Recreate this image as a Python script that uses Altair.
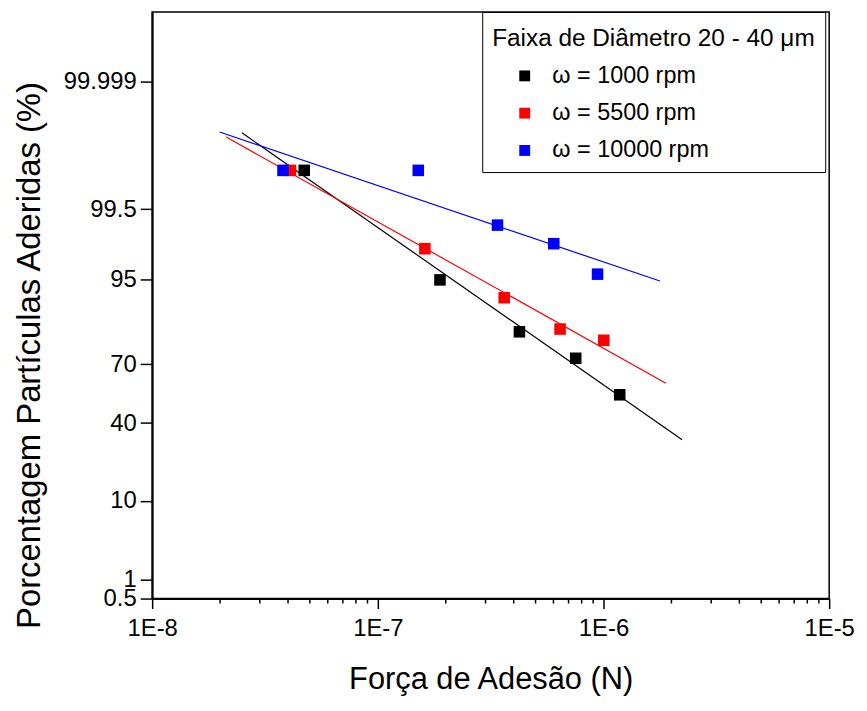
import math
import numpy as np
import pandas as pd
import altair as alt

# ---------------- data ----------------
series_names = ["ω = 1000 rpm", "ω = 5500 rpm", "ω = 10000 rpm"]
series_colors = ["#000000", "#ff0000", "#0000ff"]

force_1000 = [4.72e-8, 1.885e-7, 4.24e-7, 7.53e-7, 1.18e-6]
pct_1000 = [99.90, 94.96, 83.0, 72.7, 54.8]

force_5500 = [4.10e-8, 1.616e-7, 3.63e-7, 6.42e-7, 1.003e-6]
pct_5500 = [99.90, 98.0, 92.0, 83.9, 80.0]

force_10000 = [3.80e-8, 1.511e-7, 3.39e-7, 6.02e-7, 9.41e-7]
pct_10000 = [99.90, 99.90, 99.1, 98.3, 95.7]

# x-extent of each fitted line
fit_start = [2.50e-8, 2.13e-8, 1.99e-8]
fit_end = [2.23e-6, 1.89e-6, 1.78e-6]

y_tick_labels = ["0.5", "1", "10", "40", "70", "95", "99.5", "99.999"]
x_tick_values = [1e-8, 1e-7, 1e-6, 1e-5]
legend_title = "\u00a0Faixa de Diâmetro 20 - 40 μm"
x_title = "Força de Adesão (N)"
y_title = "Porcentagem Partículas Aderidas (%)"


# ---------------- probability (probit) transform ----------------
def probit(p):
    lo, hi = -12.0, 12.0
    for _ in range(200):
        mid = 0.5 * (lo + hi)
        if 0.5 * (1.0 + math.erf(mid / math.sqrt(2.0))) < p:
            lo = mid
        else:
            hi = mid
    return 0.5 * (lo + hi)


forces = [force_1000, force_5500, force_10000]
pcts = [pct_1000, pct_5500, pct_10000]

pt_rows = []
fit_rows = []
for name, col, fx, py, xs, xe in zip(series_names, series_colors, forces, pcts,
                                     fit_start, fit_end):
    zs = [probit(v / 100.0) for v in py]
    for f, v, z in zip(fx, py, zs):
        pt_rows.append({"series": name, "force": f, "pct": v, "z": z})
    slope, icpt = np.polyfit(np.log10(fx), zs, 1)
    for xv in (xs, xe):
        fit_rows.append({"series": name, "col": col, "force": xv,
                         "z": float(slope * math.log10(xv) + icpt)})

pts_df = pd.DataFrame(pt_rows)
fit_df = pd.DataFrame(fit_rows)

y_tick_z = [probit(float(t) / 100.0) for t in y_tick_labels]
label_expr = "''"
for t, z in zip(y_tick_labels, y_tick_z):
    label_expr = f"abs(datum.value - ({z:.6f})) < 0.0005 ? '{t}' : " + label_expr
y_bottom = y_tick_z[0]
y_top = y_tick_z[0] + (y_tick_z[-1] - y_tick_z[0]) * 590.0 / 520.0

minor_ticks = [m * 10.0 ** e for e in (-8, -7, -6) for m in range(2, 10)]
minor_df = pd.DataFrame({"force": minor_ticks})

FONT = "Liberation Sans"
W, H = 681, 590

xscale = alt.Scale(type="log", domain=[1e-8, 1e-5], nice=False)
yscale = alt.Scale(domain=[y_bottom, y_top], nice=False, zero=False)
cscale = alt.Scale(domain=series_names, range=series_colors)

xaxis = alt.Axis(
    values=x_tick_values,
    labelExpr="'1E' + round(log(datum.value) / LN10)",
    tickSize=10, labelPadding=8, labelFlush=False, labelOverlap=False,
    title=x_title, titleY=90, titleBaseline="alphabetic", titleFontSize=31,
    grid=False,
)
yaxis = alt.Axis(
    values=y_tick_z,
    labelExpr=label_expr,
    tickSize=12, labelPadding=4, labelOverlap=False, labelFlush=False,
    title=y_title, titleX=-123, titleY=345, titleAngle=-90,
    titleBaseline="middle", titleAlign="center", titleFontSize=33,
    grid=False,
)

X = alt.X("force:Q", scale=xscale, axis=xaxis)
Y = alt.Y("z:Q", scale=yscale, axis=yaxis)

lines = alt.Chart(fit_df).mark_line(strokeWidth=1.2).encode(
    x=X, y=Y,
    stroke=alt.Stroke("col:N", scale=None),
    detail="series:N",
)

legend = alt.Legend(
    title=legend_title, orient="none", legendX=332, legendY=0,
    titleFont=FONT, titleFontSize=24.5, titleFontWeight="normal",
    titleColor="black", titleLimit=1000, titlePadding=18,
    titleBaseline="line-top", titleLineHeight=34,
    labelFont=FONT, labelFontSize=23.5, labelColor="black",
    labelLimit=1000, labelOffset=16,
    symbolType="square", symbolSize=120, symbolOffset=21,
    symbolStrokeWidth=0, rowPadding=12.5, padding=10,
    strokeColor="black", fillColor="white",
)

points = alt.Chart(pts_df).mark_square(size=135, opacity=1).encode(
    x=X, y=Y,
    color=alt.Color("series:N", scale=cscale, legend=legend),
)

minor = alt.Chart(minor_df).mark_rule(color="black", strokeWidth=1.5).encode(
    x=X,
    y=alt.value(H),
    y2=alt.value(H + 5),
)

chart = (
    alt.layer(lines, minor, points)
    .properties(
        width=W, height=H,
        autosize=alt.AutoSizeParams(type="none"),
        padding={"left": 145, "top": 2, "right": 30, "bottom": 100},
    )
    .configure(font=FONT)
    .configure_view(stroke="black", strokeWidth=1.5)
    .configure_axis(
        domainColor="black", domainWidth=2, tickColor="black", tickWidth=1.5,
        labelColor="black", labelFont=FONT, labelFontSize=24,
        titleColor="black", titleFont=FONT, titleFontWeight="normal",
        grid=False,
    )
)

chart.save("out.html", embed_options={"renderer": "svg", "actions": False})
